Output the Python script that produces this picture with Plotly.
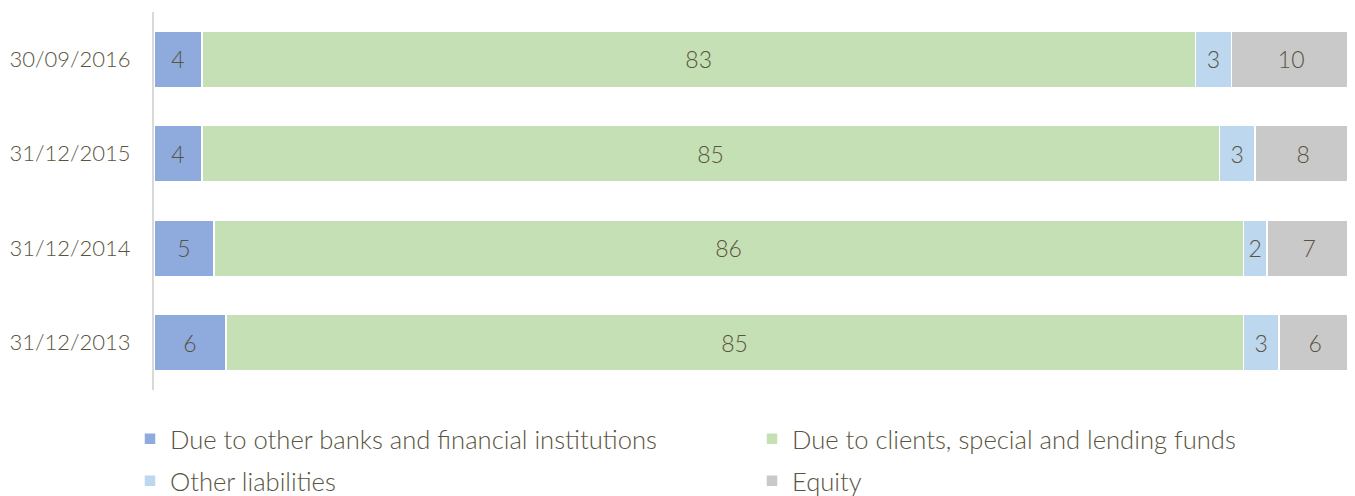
import plotly.graph_objects as go

categories = ["31/12/2013", "31/12/2014", "31/12/2015", "30/09/2016"]
due_banks = [6, 5, 4, 4]
due_clients = [85, 86, 85, 83]
other_liab = [3, 2, 3, 3]
equity = [6, 7, 8, 10]

series = [
    ("Due to other banks and financial institutions", due_banks, "#8faadc", "legend"),
    ("Due to clients, special and lending funds", due_clients, "#c5e0b4", "legend"),
    ("Other liabilities", other_liab, "#bdd7ee", "legend2"),
    ("Equity", equity, "#c9c9c9", "legend2"),
]

FONT = "Lato"
TXT = "#595440"

fig = go.Figure()
for name, vals, col, lg in series:
    fig.add_trace(go.Bar(
        y=categories, x=vals, name=name, orientation="h",
        marker=dict(color=col, line=dict(color="white", width=1.5)),
        text=[str(v) for v in vals], textposition="inside",
        insidetextanchor="middle", textangle=0, constraintext="none",
        textfont=dict(family=FONT, size=23, color=TXT, weight=300),
        legend=lg, hoverinfo="skip",
    ))

# the page body adds an 8px offset, so the figure is 8px smaller
W, H = 1347, 488
ml, mr, mt, mb = 146, 4, 4, 106
pw, ph = W - ml - mr, H - mt - mb

legend_common = dict(
    orientation="h", xanchor="left", yanchor="middle",
    x=(122 - ml) / pw,
    entrywidth=577, entrywidthmode="pixels",
    font=dict(family=FONT, size=25.6, color=TXT, weight=300),
    bgcolor="rgba(0,0,0,0)", traceorder="normal",
)

fig.update_layout(
    width=W, height=H,
    margin=dict(l=ml, r=mr, t=mt, b=mb, pad=0, autoexpand=False),
    barmode="stack", bargap=0.4,
    plot_bgcolor="white", paper_bgcolor="white",
    font=dict(family=FONT, size=22, color=TXT, weight=300),
    xaxis=dict(range=[0, 100], visible=False, fixedrange=True),
    yaxis=dict(showline=True, linecolor="#d9d9d9", linewidth=2,
               showgrid=False, ticks="", ticklabelstandoff=17,
               automargin=False,
               tickfont=dict(family=FONT, size=22, color=TXT, weight=300),
               fixedrange=True),
    legend=dict(legend_common, y=-(431 - (H - mb)) / ph),
    legend2=dict(legend_common, y=-(473 - (H - mb)) / ph),
    showlegend=True,
)

fig.write_html("out.html")
